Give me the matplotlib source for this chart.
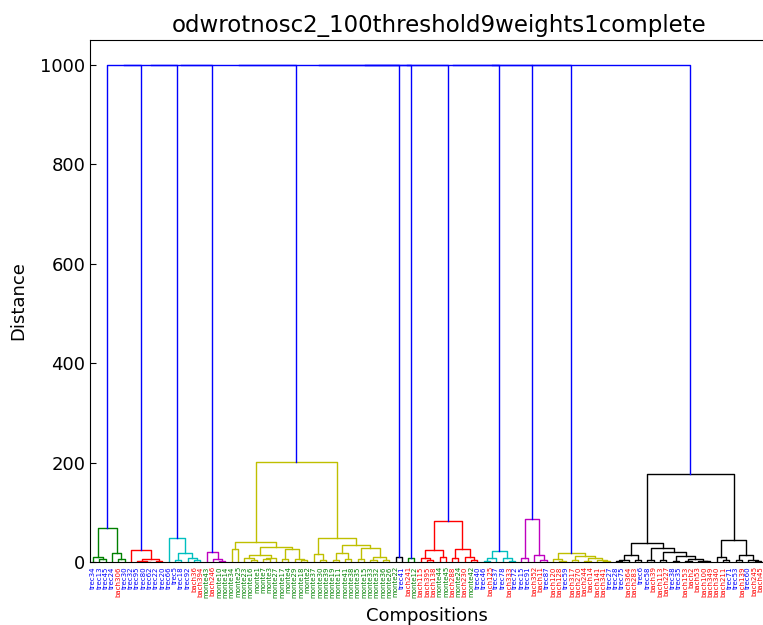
import matplotlib
matplotlib.use("Agg")
import matplotlib.pyplot as plt

# leaf labels in dendrogram order
labels = [
    "trec34", "trec13", "trec45", "trec24", "bach306", "trec30",
    "trec32", "trec95", "trec80", "trec62", "trec22", "trec20",
    "trec66", "trec5", "trec18", "trec92", "bach36", "bach394",
    "monte43", "bach246", "monte10", "monte14",
    "monte34", "monte25", "monte23", "monte16", "monte1", "monte7", "monte3",
    "monte27", "monte17", "monte4", "monte29", "monte18", "monte2", "monte37",
    "monte30", "monte39", "monte19", "monte11", "monte41", "monte38", "monte35",
    "monte15", "monte33", "monte32", "monte36", "monte26",
    "monte22", "trec41",
    "bach241", "monte12",
    "bach115", "bach395", "bach138", "monte44", "monte45", "bach288", "monte24",
    "bach230", "monte42", "trec40",
    "trec46", "bach125", "trec37", "trec78", "bach333", "trec72",
    "trec15", "trec91", "bach352", "bach11", "trec87",
    "bach120", "bach128", "trec59", "bach317", "bach270", "bach244", "bach14",
    "bach141", "bach341", "trec27",
    "trec28", "trec75", "bach364", "bach283", "trec6", "trec58", "bach39",
    "bach113", "bach227", "trec38", "trec35", "bach153", "bach2", "bach53",
    "bach100", "bach349", "bach340", "bach211", "trec71", "trec53", "bach139",
    "trec60", "bach245", "bach45",
]

# clusters as [height, left, right]; ints are leaf positions
clust1 = [68, [11, 0, [6, 1, 2]], [18, 3, [6, 4, 5]]]
clust2 = [24, 6, [6, [2, 7, [1, 8, 9]], [3, 10, 11]]]
clust3 = [48, 12, [18, [4, 13, 14], [8, 15, [5, 16, 17]]]]
clust4 = [20, 18, [6, 19, [3, 20, 21]]]
clust5 = [202,
          [40, [26, 22, 23],
           [31, [14, [8, 24, [5, 25, 26]], [9, [6, 27, 28], 29]],
            [26, [6, 30, 31], [7, 32, [4, 33, 34]]]]],
          [48, [16, 35, [5, 36, 37]],
           [34, [19, [5, 38, 39], [6, 40, 41]],
            [28, [6, 42, 43], [10, [4, 44, 45], [5, 46, 47]]]]]]
clust6 = [10, 48, 49]
clust7 = [9, 50, 51]
clust8 = [83, [25, [9, 52, [4, 53, 54]], [10, 55, 56]],
          [27, [8, 57, 58], [10, 59, [4, 60, 61]]]]
clust9 = [22, [8, [3, 62, 63], 64], [8, 65, [3, 66, 67]]]
clust10 = [87, [8, 68, 69], [15, 70, [5, 71, 72]]]
clust11 = [19, [7, 73, [3, 74, 75]],
           [12, [4, 76, 77], [8, [3, 78, 79], [5, 80, [2, 81, 82]]]]]
clust12 = [177,
           [39, [15, [4, [3, 83, 84], 85], [4, 86, 87]],
            [29, [4, 88, 89],
             [20, [4, 90, 91],
              [12, [3, 92, 93], [6, [2, 94, 95], [3, 96, [2, 97, 98]]]]]]],
           [44, [11, 99, [4, 100, 101]],
            [15, [4, 102, 103], [5, 104, [2, 105, 106]]]]]

clusters = [clust1, clust2, clust3, clust4, clust5, clust6,
            clust7, clust8, clust9, clust10, clust11, clust12]
cluster_colors = ["g", "r", "c", "m", "y", "k"] * 2
top_height = 1000
label_colors = {"trec": "b", "bach": "r", "monte": "g"}


def draw(ax, node, color):
    # returns (x, height) of the node and draws its links
    if isinstance(node, int):
        return 5 + 10 * node, 0
    h, left, right = node
    xl, hl = draw(ax, left, color)
    xr, hr = draw(ax, right, color)
    ax.plot([xl, xl, xr, xr], [hl, h, h, hr], color=color, lw=1)
    return (xl + xr) / 2, h


fig = plt.figure(figsize=(7.63, 6.25), dpi=100)
ax = fig.add_axes([90 / 763, 63 / 625, 674 / 763, 522 / 625])

tops = [draw(ax, c, col) for c, col in zip(clusters, cluster_colors)]
x_cur, h_cur = tops[0]
for x_next, h_next in tops[1:]:
    ax.plot([x_cur, x_cur, x_next, x_next], [h_cur, top_height, top_height, h_next],
            color="b", lw=1)
    x_cur, h_cur = (x_cur + x_next) / 2, top_height

n = len(labels)
ax.set_xlim(0, 10 * n)
ax.set_ylim(0, 1050)
ax.set_xticks([5 + 10 * i for i in range(n)])
ax.set_xticklabels(labels, rotation=90, fontsize=5)
for t, lab in zip(ax.get_xticklabels(), labels):
    for pre, col in label_colors.items():
        if lab.startswith(pre):
            t.set_color(col)
ax.tick_params(axis="x", length=0, pad=3)
ax.set_yticks(range(0, 1001, 200))
ax.tick_params(axis="y", direction="in", length=4, labelsize=13)

ax.set_title("odwrotnosc2_100threshold9weights1complete", fontsize=16.5, x=0.518)
ax.set_ylabel("Distance", fontsize=13, labelpad=9)
ax.set_xlabel("Compositions", fontsize=13, labelpad=7)

fig.savefig("out.png", dpi=100)
